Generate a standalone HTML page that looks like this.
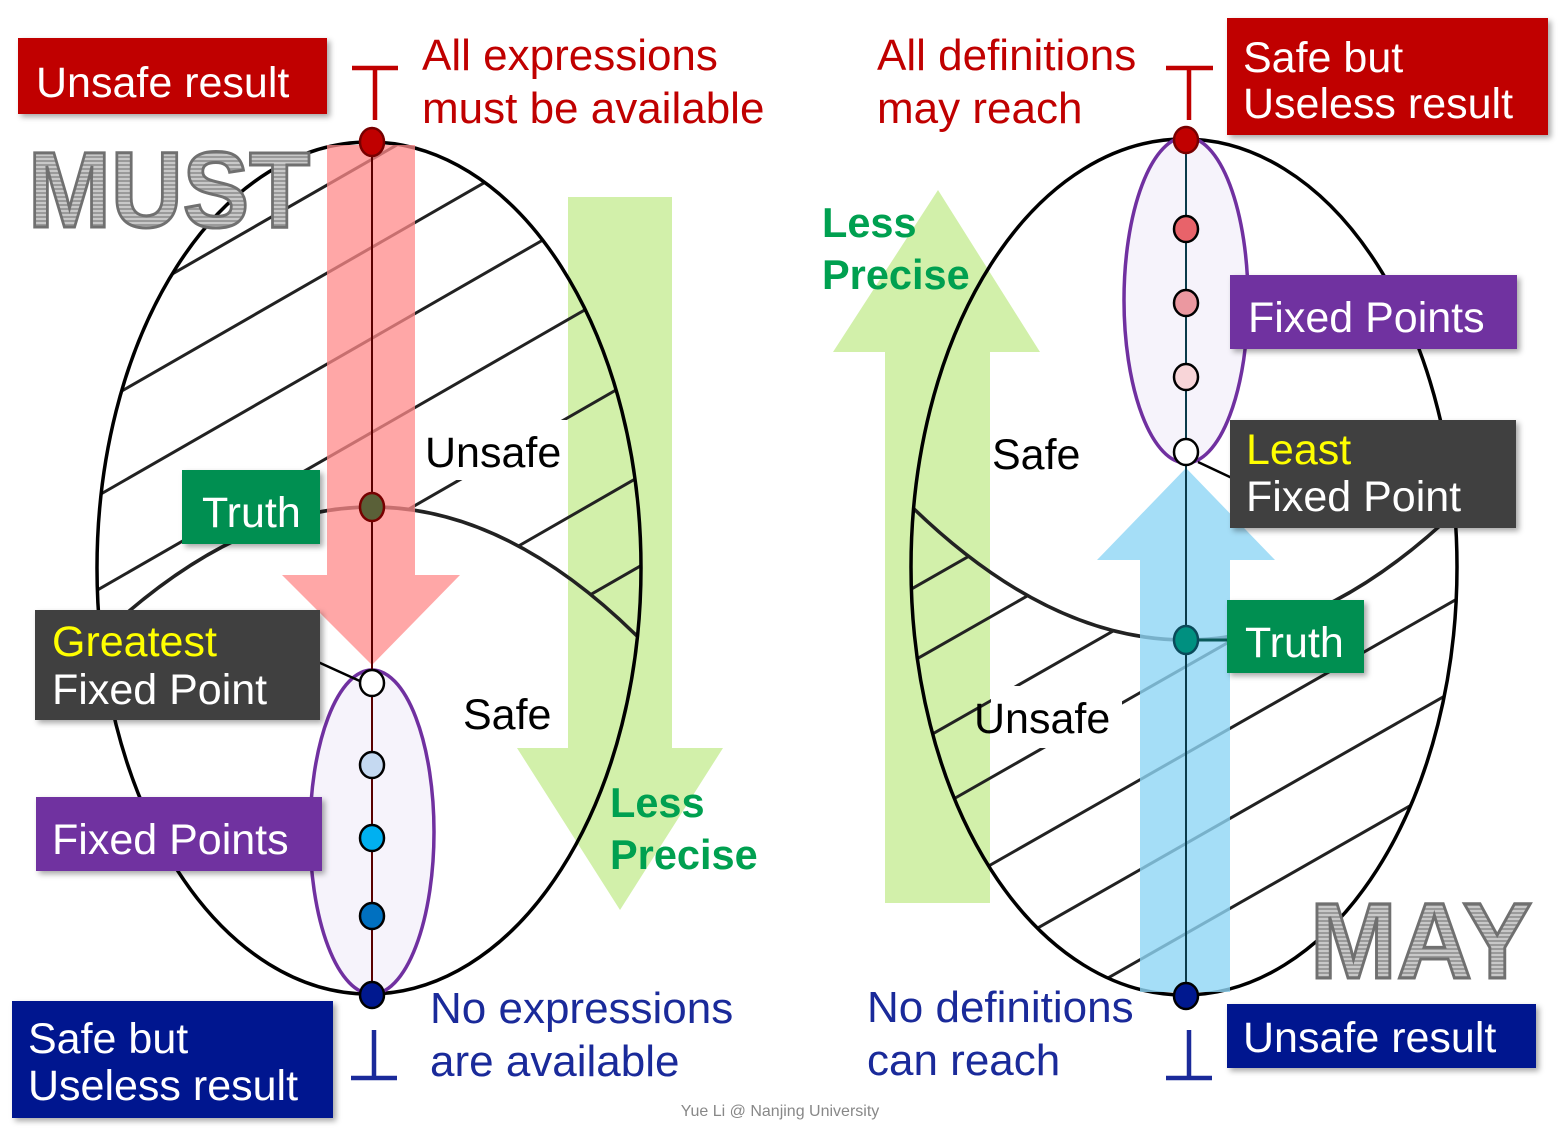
<!DOCTYPE html>
<html><head><meta charset="utf-8"><style>
html,body{margin:0;padding:0;background:#fff;width:1565px;height:1138px;overflow:hidden;}
svg{display:block;font-family:"Liberation Sans",sans-serif;}
</style></head><body>
<svg width="1565" height="1138" viewBox="0 0 1565 1138" xmlns="http://www.w3.org/2000/svg">
<defs>
 <clipPath id="elL"><ellipse cx="369" cy="568" rx="272" ry="426"/></clipPath>
 <clipPath id="regL"><path d="M0,640 L97,640 Q375,374 641,640 L700,640 L700,0 L0,0 Z"/></clipPath>
 <clipPath id="elR"><ellipse cx="1184" cy="567" rx="273" ry="428"/></clipPath>
 <clipPath id="regR"><path d="M880,507 L912,507 Q1186,773 1460,507 L1520,507 L1520,1100 L880,1100 Z"/></clipPath>
 <pattern id="stripe" width="8" height="4" patternUnits="userSpaceOnUse">
  <rect width="8" height="4" fill="#c8c8c8"/><rect width="8" height="2" fill="#9a9a9a"/>
 </pattern>
 <filter id="sh" x="-10%" y="-10%" width="130%" height="140%"><feDropShadow dx="3" dy="3" stdDeviation="3" flood-color="#000" flood-opacity="0.35"/></filter>
</defs>

<polygon points="568,197 672,197 672,748 723,748 620,910 517,748 568,748" fill="#d2f0aa"/>
<polygon points="885,903 990,903 990,352 1040,352 938,190 833,352 885,352" fill="#d2f0aa"/>

<g clip-path="url(#elL)"><g clip-path="url(#regL)" stroke="#222" stroke-width="3">
 <line x1="0" y1="373" x2="750" y2="-58"/>
 <line x1="0" y1="461" x2="750" y2="30"/>
 <line x1="0" y1="552" x2="750" y2="121"/>
 <line x1="0" y1="646" x2="750" y2="215"/>
 <line x1="0" y1="744" x2="750" y2="313"/>
 <line x1="0" y1="844" x2="750" y2="413"/>
 <line x1="0" y1="934" x2="750" y2="503"/>
</g></g>
<rect x="418" y="420" width="149" height="60" fill="#fff"/>

<g clip-path="url(#elR)"><g clip-path="url(#regR)" stroke="#222" stroke-width="3">
 <line x1="850" y1="624" x2="1550" y2="225"/>
 <line x1="850" y1="697" x2="1550" y2="298"/>
 <line x1="850" y1="781" x2="1550" y2="382"/>
 <line x1="850" y1="858" x2="1550" y2="459"/>
 <line x1="850" y1="945" x2="1550" y2="546"/>
 <line x1="850" y1="1035" x2="1550" y2="636"/>
 <line x1="850" y1="1125" x2="1550" y2="726"/>
 <line x1="850" y1="1215" x2="1550" y2="816"/>
</g></g>
<rect x="991" y="686" width="131" height="62" fill="#fff"/>

<path d="M97,640 Q375,374 641,640" fill="none" stroke="#222" stroke-width="3.5" clip-path="url(#elL)"/>
<ellipse cx="369" cy="568" rx="272" ry="426" fill="none" stroke="#000" stroke-width="3.5"/>
<path d="M912,507 Q1186,773 1460,507" fill="none" stroke="#222" stroke-width="3.5" clip-path="url(#elR)"/>
<ellipse cx="1184" cy="567" rx="273" ry="428" fill="none" stroke="#000" stroke-width="3.5"/>

<polygon points="327,145 415,145 415,575 460,575 372,665 282,575 327,575" fill="#ff8a8a" opacity="0.75"/>
<polygon points="1140,992 1230,992 1230,560 1275,560 1186,468 1097,560 1140,560" fill="#8fd6f5" opacity="0.8"/>

<ellipse cx="372" cy="832" rx="62" ry="162" fill="#f6f3fb" stroke="#7030a0" stroke-width="3.5"/>
<line x1="372" y1="142" x2="372" y2="995" stroke="#5a0000" stroke-width="2"/>
<line x1="318" y1="662" x2="362" y2="682" stroke="#000" stroke-width="2.5"/>
<ellipse cx="1186" cy="300" rx="62" ry="163" fill="#f6f3fb" stroke="#7030a0" stroke-width="3.5"/>
<line x1="1186" y1="140" x2="1186" y2="995" stroke="#0a3a4a" stroke-width="2"/>
<line x1="1198" y1="462" x2="1232" y2="478" stroke="#000" stroke-width="2.5"/>
<line x1="1198" y1="640" x2="1228" y2="640" stroke="#0a5a5a" stroke-width="3"/>

<g stroke="#000" stroke-width="2.5">
 <ellipse cx="372" cy="142" rx="12" ry="14" fill="#c00000" stroke="#700"/>
 <ellipse cx="372" cy="507" rx="12" ry="14" fill="#5a6038" stroke="#700"/>
 <ellipse cx="372" cy="683" rx="12" ry="13" fill="#fff"/>
 <ellipse cx="372" cy="765" rx="12" ry="13" fill="#c5d9f1"/>
 <ellipse cx="372" cy="838" rx="12" ry="13" fill="#00b0f0"/>
 <ellipse cx="372" cy="916" rx="12" ry="13" fill="#0070c0"/>
 <ellipse cx="372" cy="995" rx="12" ry="13" fill="#00188f"/>
 <ellipse cx="1186" cy="140" rx="12" ry="13" fill="#c00000" stroke="#700"/>
 <ellipse cx="1186" cy="229" rx="12" ry="13" fill="#e8636a"/>
 <ellipse cx="1186" cy="303" rx="12" ry="13" fill="#eb98a0"/>
 <ellipse cx="1186" cy="377" rx="12" ry="13" fill="#f8d5d8"/>
 <ellipse cx="1186" cy="452" rx="12" ry="13" fill="#fff"/>
 <ellipse cx="1186" cy="640" rx="12" ry="14" fill="#009080" stroke="#0a4a5a"/>
 <ellipse cx="1186" cy="996" rx="12" ry="13" fill="#00188f"/>
</g>

<g stroke="#c00000" stroke-width="4.5" fill="none">
 <line x1="352" y1="68" x2="398" y2="68"/><line x1="375" y1="68" x2="375" y2="120"/>
 <line x1="1166" y1="68" x2="1213" y2="68"/><line x1="1189" y1="68" x2="1189" y2="120"/>
</g>
<g stroke="#1a2a9a" stroke-width="4.5" fill="none">
 <line x1="351" y1="1078" x2="397" y2="1078"/><line x1="374" y1="1030" x2="374" y2="1078"/>
 <line x1="1166" y1="1078" x2="1212" y2="1078"/><line x1="1189" y1="1030" x2="1189" y2="1078"/>
</g>

<text x="28" y="227" font-size="108" font-weight="bold" fill="url(#stripe)" stroke="#707070" stroke-width="3" textLength="282" lengthAdjust="spacingAndGlyphs">MUST</text>
<text x="1310" y="978" font-size="108" font-weight="bold" fill="url(#stripe)" stroke="#707070" stroke-width="3" textLength="222" lengthAdjust="spacingAndGlyphs">MAY</text>

<g filter="url(#sh)">
 <rect x="18" y="38" width="309" height="76" fill="#c00000"/>
 <rect x="1227" y="18" width="321" height="117" fill="#c00000"/>
 <rect x="182" y="470" width="138" height="74" fill="#008f51"/>
 <rect x="35" y="610" width="285" height="110" fill="#404040"/>
 <rect x="36" y="797" width="286" height="74" fill="#7030a0"/>
 <rect x="12" y="1001" width="321" height="117" fill="#00188f"/>
 <rect x="1230" y="275" width="287" height="74" fill="#7030a0"/>
 <rect x="1230" y="420" width="286" height="108" fill="#404040"/>
 <rect x="1227" y="600" width="137" height="73" fill="#008f51"/>
 <rect x="1227" y="1004" width="309" height="64" fill="#00188f"/>
</g>
<g fill="#fff" font-size="43">
 <text x="36" y="97">Unsafe result</text>
 <text x="1243" y="72">Safe but</text>
 <text x="1243" y="118">Useless result</text>
 <text x="202" y="527">Truth</text>
 <text x="52" y="704">Fixed Point</text>
 <text x="52" y="854">Fixed Points</text>
 <text x="28" y="1053">Safe but</text>
 <text x="28" y="1100">Useless result</text>
 <text x="1248" y="332">Fixed Points</text>
 <text x="1246" y="511">Fixed Point</text>
 <text x="1245" y="657">Truth</text>
 <text x="1243" y="1052">Unsafe result</text>
</g>
<g fill="#ffff00" font-size="43">
 <text x="52" y="656">Greatest</text>
 <text x="1246" y="464">Least</text>
</g>

<g fill="#c00000" font-size="44">
 <text x="422" y="70">All expressions</text>
 <text x="422" y="123">must be available</text>
 <text x="877" y="70">All definitions</text>
 <text x="877" y="123">may reach</text>
</g>
<g fill="#1a2a9a" font-size="44">
 <text x="430" y="1023">No expressions</text>
 <text x="430" y="1076">are available</text>
 <text x="867" y="1022">No definitions</text>
 <text x="867" y="1075">can reach</text>
</g>
<g fill="#00a050" font-size="41.5" font-weight="bold">
 <text x="822" y="237">Less</text>
 <text x="822" y="289">Precise</text>
 <text x="610" y="817">Less</text>
 <text x="610" y="869">Precise</text>
</g>
<g fill="#000" font-size="43">
 <text x="425" y="467">Unsafe</text>
 <text x="463" y="729">Safe</text>
 <text x="992" y="469">Safe</text>
 <text x="974" y="733">Unsafe</text>
</g>
<text x="780" y="1116" font-size="16" fill="#888" text-anchor="middle">Yue Li @ Nanjing University</text>
</svg>
</body></html>
